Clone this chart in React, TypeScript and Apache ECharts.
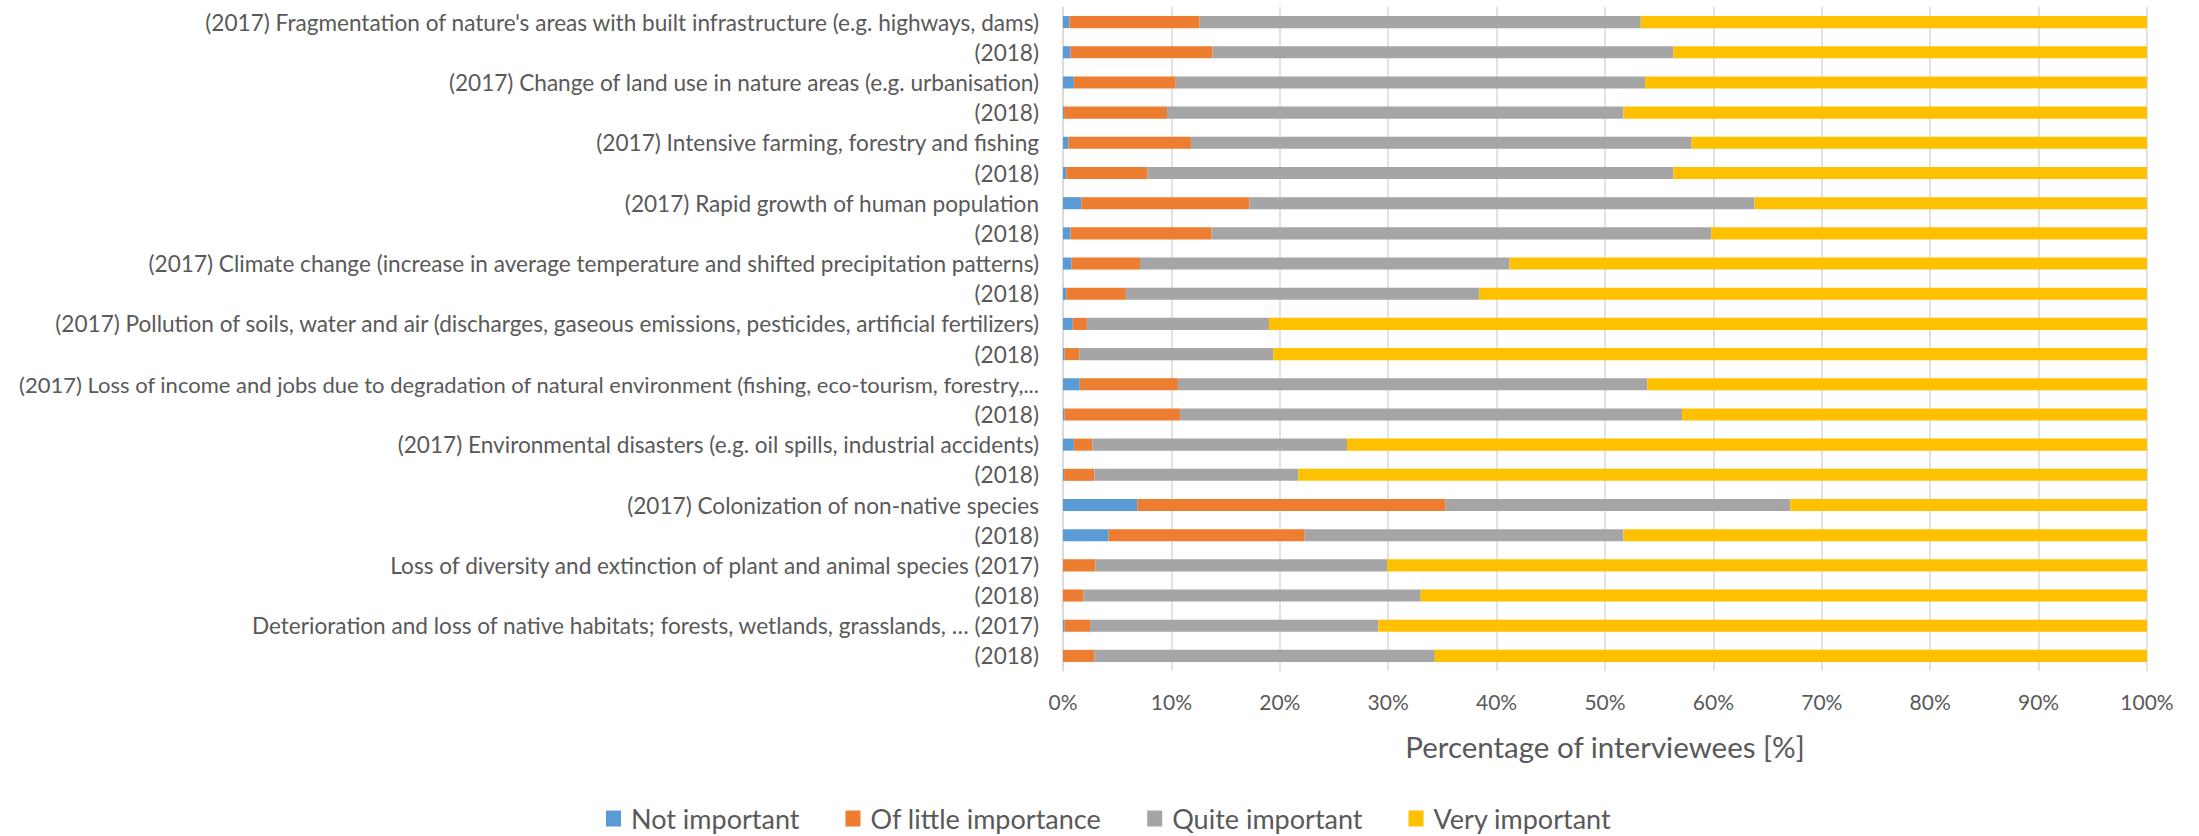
import React, { useEffect, useRef } from "react";
import * as echarts from "echarts";

const categories = [
  "(2017) Fragmentation of nature's areas with built infrastructure (e.g. highways, dams)",
  "(2018)",
  "(2017) Change of land use in nature areas (e.g. urbanisation)",
  "(2018)",
  "(2017) Intensive farming, forestry and fishing",
  "(2018)",
  "(2017) Rapid growth of human population",
  "(2018)",
  "(2017) Climate change (increase in average temperature and shifted precipitation patterns)",
  "(2018)",
  "(2017) Pollution of soils, water and air (discharges, gaseous emissions, pesticides, artificial fertilizers)",
  "(2018)",
  "(2017) Loss of income and jobs due to degradation of natural environment (fishing, eco-tourism, forestry,...",
  "(2018)",
  "(2017) Environmental disasters (e.g. oil spills, industrial accidents)",
  "(2018)",
  "(2017) Colonization of non-native species",
  "(2018)",
  "Loss of diversity and extinction of plant and animal species (2017)",
  "(2018)",
  "Deterioration and loss of native habitats; forests, wetlands, grasslands, \u2026 (2017)",
  "(2018)",
];

const notImportant = [0.6, 0.7, 1.0, 0.1, 0.5, 0.3, 1.7, 0.7, 0.8, 0.3, 0.9, 0.15, 1.55, 0.15, 1.0, 0.1, 6.85, 4.2, 0.0, 0.0, 0.15, 0.0];
const ofLittleImportance = [12.0, 13.1, 9.4, 9.5, 11.3, 7.5, 15.5, 13.0, 6.3, 5.5, 1.3, 1.35, 9.05, 10.65, 1.7, 2.8, 28.45, 18.1, 3.0, 1.9, 2.35, 2.9];
const quiteImportant = [40.7, 42.5, 43.3, 42.1, 46.2, 48.5, 46.6, 46.1, 34.1, 32.6, 16.8, 17.9, 43.3, 46.3, 23.5, 18.8, 31.8, 29.4, 26.9, 31.1, 26.6, 31.4];
const veryImportant = [46.7, 43.7, 46.3, 48.3, 42.0, 43.7, 36.2, 40.2, 58.8, 61.6, 81.0, 80.6, 46.1, 42.9, 73.8, 78.3, 32.9, 48.3, 70.1, 67.0, 70.9, 65.7];

const seriesNames = ["Not important", "Of little importance", "Quite important", "Very important"];
const seriesColors = ["#5B9BD5", "#ED7D31", "#A5A5A5", "#FFC000"];
const xTicks = { min: 0, max: 100, interval: 10 };

const FONT = "Lato, 'Liberation Sans', sans-serif";
const TEXT = "#595959";

export default function App() {
  const ref = useRef<HTMLDivElement>(null);
  useEffect(() => {
    document.body.style.margin = "0";
    if (!ref.current) return;
    const chart = echarts.init(ref.current, undefined, { renderer: "svg" });
    const values = [notImportant, ofLittleImportance, quiteImportant, veryImportant];
    chart.setOption({
      animation: false,
      backgroundColor: "#ffffff",
      textStyle: { fontFamily: FONT },
      grid: { left: 1063, right: 52, top: 7, bottom: 165, containLabel: false, outerBoundsMode: "none" },
      legend: {
        data: seriesNames,
        left: 601,
        top: 800,
        itemWidth: 15,
        itemHeight: 16,
        itemGap: 46,
        icon: "rect",
        textStyle: { fontSize: 27, color: TEXT, fontFamily: FONT, padding: [0, 0, 0, 5] },
      },
      xAxis: {
        type: "value",
        min: xTicks.min,
        max: xTicks.max,
        interval: xTicks.interval,
        axisLine: { show: false },
        axisTick: { show: false },
        splitLine: { show: true, lineStyle: { color: "#d9d9d9", width: 1.5 } },
        axisLabel: { formatter: "{value}%", fontSize: 21, color: TEXT, margin: 20, fontFamily: FONT },
        name: "Percentage of interviewees [%]",
        nameLocation: "middle",
        nameGap: 60,
        nameTextStyle: { fontSize: 29.5, color: TEXT, fontFamily: FONT },
      },
      yAxis: {
        type: "category",
        inverse: true,
        data: categories,
        axisTick: { show: false },
        axisLine: { show: true, lineStyle: { color: "#d9d9d9", width: 1.5 } },
        axisLabel: {
          fontSize: 22.6,
          color: TEXT,
          margin: 24,
          fontFamily: FONT,
          interval: 0,
          formatter: (value: string) => (value.endsWith("...") ? "{s|" + value + "}" : value),
          rich: { s: { fontSize: 22, color: TEXT, fontFamily: FONT } },
        },
      },
      series: seriesNames.map((name, i) => ({
        name,
        type: "bar",
        stack: "total",
        barWidth: "40%",
        itemStyle: { color: seriesColors[i] },
        data: values[i],
      })),
    });
    return () => chart.dispose();
  }, []);
  return <div ref={ref} style={{ width: 2199, height: 836 }} />;
}
